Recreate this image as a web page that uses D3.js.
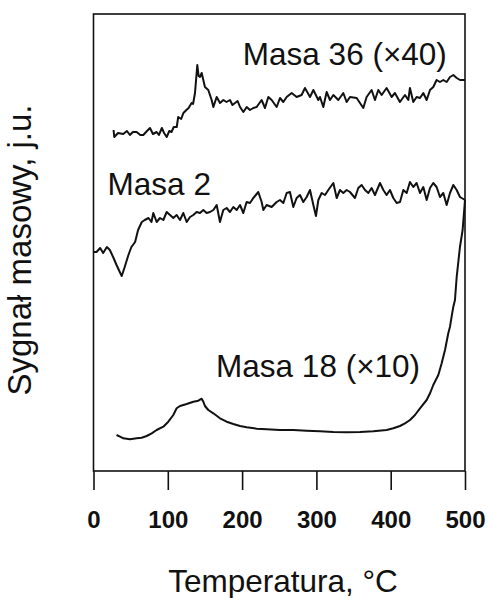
<!DOCTYPE html>
<html>
<head>
<meta charset="utf-8">
<script src="https://cdn.jsdelivr.net/npm/d3@7"></script>
<style>
  body { margin: 0; background: #fff; }
  svg text { font-family: "Liberation Sans", Arial, sans-serif; fill: #111; }
</style>
</head>
<body>
<div id="chart"></div>
<script>
const width = 492;
const height = 598;

// temperature (°C), signal (arbitrary units)
const masa36 = [
  [27, 341], [28, 334], [33, 338], [40, 337], [45, 340], [49, 336], [53, 339], [58, 339],
  [63, 336], [67, 336], [72, 340], [76, 343], [80, 337], [85, 339], [88, 336], [92, 343],
  [95, 338], [98.5, 334], [102, 340], [105, 339], [108, 344], [112, 344], [114, 354], [118, 352],
  [121, 358], [125, 361], [128, 363], [132, 368], [134, 367], [136.6, 378], [139.7, 406], [141.5, 395],
  [143.3, 394], [145.6, 398], [147.8, 391], [150, 384], [154.5, 381], [159, 371], [161.3, 364], [165.8, 374],
  [170.3, 368], [174.8, 371], [179, 369], [183.7, 371], [187, 366], [190.5, 368], [194, 370], [197.2, 364],
  [201.7, 359], [206.2, 364], [210.6, 361], [215.1, 363], [219.6, 364], [226.3, 371], [230.8, 363], [235.3, 374],
  [239.8, 371], [246.5, 364], [251, 373], [255.5, 369], [260, 374], [266.7, 378], [273.4, 374], [280.1, 376],
  [284.6, 383], [291.4, 374], [295.9, 381], [302.6, 371], [304.8, 374], [309.3, 364], [313.8, 379], [318.3, 371],
  [322.8, 376], [329.5, 371], [336.2, 378], [340.7, 369], [345.2, 374], [354.2, 373], [363.1, 363], [367.6, 374],
  [374.3, 381], [378.8, 371], [383.3, 381], [387.8, 376], [394.5, 383], [401.3, 374], [405.7, 378], [412.4, 369],
  [419.2, 376], [423.7, 371], [425.9, 383], [430.4, 369], [434.9, 374], [439.4, 373], [443.9, 378], [448.4, 371],
  [452.9, 381], [457.3, 384], [461.8, 391], [466.3, 389], [470.8, 391], [475.3, 389], [479.8, 394], [484.3, 396],
  [488.8, 393], [493.3, 391], [500, 391]
];

const masa2 = [
  [0, 219], [4, 219], [9, 223], [13, 218], [18, 224], [22, 221], [27, 213], [31, 206],
  [36, 198], [38, 195], [42, 204], [47, 216], [51, 224], [56, 229], [60, 241], [65, 249],
  [69, 251], [74, 253], [78, 249], [80.5, 258], [85, 249], [89.5, 253], [94, 251], [98.5, 259],
  [103, 256], [107.4, 253], [111.9, 256], [116.4, 251], [120.9, 258], [125.4, 249], [129.9, 254], [134.4, 256],
  [138.8, 259], [143.3, 258], [147.8, 261], [152.3, 258], [156.8, 259], [161.3, 261], [165.8, 266], [170.2, 249],
  [174.7, 261], [179.2, 263], [183.7, 259], [188.2, 264], [192.7, 261], [197.2, 266], [201.6, 258], [206.1, 269],
  [210.6, 268], [215.1, 273], [221.8, 279], [226.3, 269], [228.6, 261], [233, 266], [239.8, 264], [246.5, 269],
  [251, 271], [255.5, 268], [260, 278], [264.4, 279], [268.9, 264], [273.4, 273], [277.9, 276], [282.4, 269],
  [286.9, 274], [291.4, 281], [295.9, 266], [299.4, 255], [302.6, 271], [307.1, 278], [311.6, 276], [316, 281],
  [322.8, 288], [327.3, 273], [331.7, 281], [336.2, 278], [340.7, 281], [345.2, 279], [351.9, 273], [356.4, 283],
  [360.9, 286], [365.4, 281], [369.9, 278], [374.3, 283], [378.8, 276], [385.6, 288], [390.1, 281], [394.5, 276],
  [399, 281], [403.5, 273], [408, 268], [412.5, 269], [417, 281], [421.5, 278], [425.9, 289], [430.4, 284],
  [434.9, 288], [439.4, 278], [443.9, 284], [448.4, 271], [452.9, 283], [457.3, 288], [461.8, 284], [466.3, 274],
  [470.8, 278], [475.3, 266], [479.8, 278], [484.3, 286], [488.8, 281], [493.2, 274], [500, 271]
];

const masa18 = [
  [31, 36], [35.7, 34.3], [40.2, 32.7], [49.1, 31.7], [58.1, 32.7], [64.8, 33.3], [71.6, 35], [78.3, 37.7],
  [85, 41], [94, 44.3], [100.7, 49.3], [107.4, 56], [111.9, 62.7], [116.4, 65], [125.4, 67], [134.4, 69.3],
  [141.1, 70.3], [145.6, 72.3], [147.8, 69.3], [150, 65], [154.5, 61], [161.3, 57.7], [170.2, 52.7], [179.2, 49.3],
  [188.2, 47], [197.2, 45], [206.1, 43.7], [219.6, 42.3], [233, 41.7], [251, 41], [268.9, 41], [286.9, 40.3],
  [304.8, 39.7], [322.8, 39], [340.7, 38.7], [358.7, 39], [376.6, 39.7], [394.5, 41], [403.5, 42.7], [412.5, 45],
  [419.2, 47.7], [426, 51], [432.7, 56], [439.4, 62.7], [448.4, 71], [452.9, 77.7], [457.3, 86], [464.1, 96],
  [468.6, 107.7], [473.1, 121], [477.5, 137.7], [479.8, 144.3], [482, 154.3], [484.3, 164.3], [486.5, 171], [488.8, 194],
  [493.2, 224], [496.8, 241], [500, 271]
];

const xTicks = [0, 100, 200, 300, 400, 500];

const labels = [
  { text: "Masa 36 (\u00d740)", t: 201, s: 406 },
  { text: "Masa 2", t: 19, s: 276 },
  { text: "Masa 18 (\u00d710)", t: 165, s: 94 }
];

const margin = { top: 14, right: 27, bottom: 127, left: 93.5 };

const svg = d3.select("#chart")
    .append("svg")
    .attr("width", width)
    .attr("height", height);

const xScale = d3.scaleLinear()
    .domain([0, 500])
    .range([margin.left, width - margin.right]);

const yScale = d3.scaleLinear()
    .domain([0, 457])
    .range([height - margin.bottom, margin.top]);

// frame
svg.append("rect")
    .attr("x", xScale(0))
    .attr("y", yScale(457))
    .attr("width", xScale(500) - xScale(0))
    .attr("height", yScale(0) - yScale(457))
    .attr("fill", "none")
    .attr("stroke", "#111")
    .attr("stroke-width", 1.6);

const xAxis = d3.axisBottom(xScale)
    .tickValues(xTicks)
    .tickSize(19)
    .tickSizeOuter(0)
    .tickPadding(21);

const gx = svg.append("g")
    .attr("transform", `translate(0, ${yScale(0)})`)
    .call(xAxis);

gx.select(".domain").remove();
gx.selectAll(".tick line").attr("stroke", "#111").attr("stroke-width", 1.6);
gx.selectAll(".tick text")
    .style("font-size", "24px")
    .style("font-weight", "bold")
    .attr("fill", "#111");

const line = d3.line()
    .x(d => xScale(d[0]))
    .y(d => yScale(d[1]));

[masa36, masa2, masa18].forEach(series => {
    svg.append("path")
        .datum(series)
        .attr("d", line)
        .attr("fill", "none")
        .attr("stroke", "#111")
        .attr("stroke-width", 2)
        .attr("stroke-linejoin", "round");
});

svg.selectAll(".series-label")
    .data(labels)
    .enter()
    .append("text")
    .attr("class", "series-label")
    .attr("x", d => xScale(d.t))
    .attr("y", d => yScale(d.s))
    .style("font-size", "31.5px")
    .text(d => d.text);

svg.append("text")
    .attr("x", 283)
    .attr("y", 592)
    .attr("text-anchor", "middle")
    .style("font-size", "31.5px")
    .text("Temperatura, \u00b0C");

svg.append("text")
    .attr("transform", "rotate(-90)")
    .attr("x", -250)
    .attr("y", 31)
    .attr("text-anchor", "middle")
    .style("font-size", "33px")
    .text("Sygnał masowy, j.u.");
</script>
</body>
</html>
